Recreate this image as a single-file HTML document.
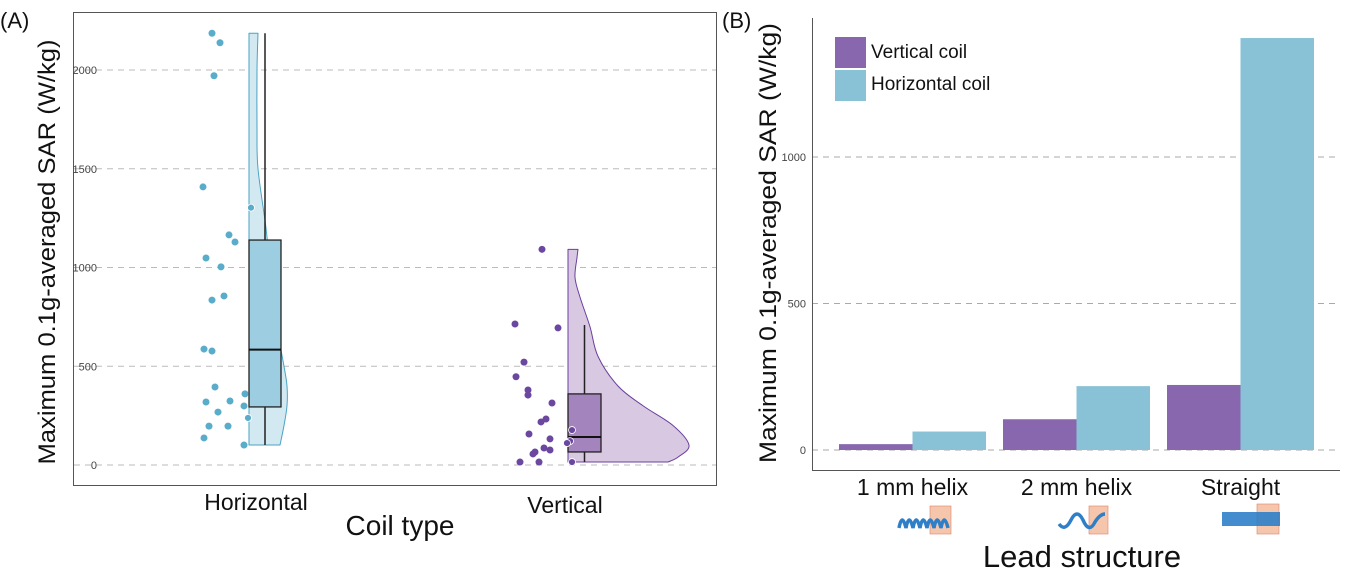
<!DOCTYPE html>
<html><head><meta charset="utf-8"><style>
body{margin:0;background:#fff;width:1345px;height:578px;overflow:hidden;font-family:"Liberation Sans",sans-serif}
svg text{font-family:"Liberation Sans",sans-serif}
</style></head><body>
<svg id="chart" width="1345" height="578" xmlns="http://www.w3.org/2000/svg">
<g id="left"></g>
<g id="right"></g>
</svg>
<script>
// Panel A data
const aTicks=[0,500,1000,1500,2000];
const horizPoints=[2186,2138,1971,1408,1303,1165,1129,1048,1003,835,856,587,577,395,319,324,360,299,268,238,197,197,137,101];
const horizJitter=[212,220,214,203,251,229,235,206,221,212,224,204,212,215,206,230,245,244,218,248,209,228,204,244];
const horizBox=[101,294,584,1139,2186];
const horizDensV=[2186,2000,1700,1500,1200,1000,700,500,400,300,200,101];
const horizDensW=[9,8,8,9,17,21,28,35,38,38,35,31];
const vertPoints=[1092,714,694,521,447,380,354,314,233,218,157,132,177,121,111,86,76,66,56,15,15,15];
const vertJitter=[542,515,558,524,516,528,528,552,546,541,529,550,572,570,567,544,550,535,533,520,539,572];
const vertBox=[15,66,142,360,709];
const vertDensV=[1092,1050,950,850,700,550,400,300,200,100,40,15];
const vertDensW=[10,9,7,12,22,30,50,75,105,121,110,100];
// Panel B data
const bCats=["1 mm helix","2 mm helix","Straight"];
const bVertical=[20,105,222];
const bHorizontal=[63,218,1406];
const bTicks=[0,500,1000];

const NS="http://www.w3.org/2000/svg";
function mk(p,t,a,txt){const e=document.createElementNS(NS,t);for(const k in a)e.setAttribute(k,a[k]);if(txt!==undefined)e.textContent=txt;p.appendChild(e);return e;}
const L=document.getElementById('left'),R=document.getElementById('right');
const yA=v=>465-v*0.1975;
function smooth(pts){let d='M'+pts[0][0]+','+pts[0][1];
  for(let i=0;i<pts.length-1;i++){const p0=pts[Math.max(0,i-1)],p1=pts[i],p2=pts[i+1],p3=pts[Math.min(pts.length-1,i+2)];
    const c1=[p1[0]+(p2[0]-p0[0])/6,p1[1]+(p2[1]-p0[1])/6],c2=[p2[0]-(p3[0]-p1[0])/6,p2[1]-(p3[1]-p1[1])/6];
    d+=' C'+c1[0]+','+c1[1]+' '+c2[0]+','+c2[1]+' '+p2[0]+','+p2[1];}
  return d;}
let f=mk(L,'rect',{x:73.5,y:12.5,width:643,height:473,fill:'none',stroke:'#555','stroke-width':1});

aTicks.forEach(t=>{let g=mk(L,'line',{x1:74,x2:716,y1:yA(t),y2:yA(t),stroke:'#bbb','stroke-dasharray':'6,5'});

let tx=mk(L,'text',{x:97,y:yA(t)+4,'font-size':11,fill:'#444','text-anchor':'end'},t);
});
function group(box,dv,dw,pts,jit,x0,bw,fillV,strokeV,fillB,ptC,name){
  const pp=dv.map((v,i)=>[x0+dw[i],yA(v)]);
  let d='M'+x0+','+yA(dv[0])+' L'+pp[0][0]+','+pp[0][1]+smooth(pp).replace(/^M[^C]*/,' ')+' L'+x0+','+yA(dv[dv.length-1])+' Z';
  let vi=mk(L,'path',{d:d,fill:fillV,stroke:strokeV,'stroke-width':1,'stroke-linejoin':'round'});
  
  const cx=x0+bw/2;
  let w=mk(L,'line',{x1:cx,x2:cx,y1:yA(box[0]),y2:yA(box[4]),stroke:'#222','stroke-width':1.5});
  
  let b=mk(L,'rect',{x:x0,y:yA(box[3]),width:bw,height:yA(box[1])-yA(box[3]),fill:fillB,stroke:'#222','stroke-width':1.3});
  
  let m=mk(L,'line',{x1:x0,x2:x0+bw,y1:yA(box[2]),y2:yA(box[2]),stroke:'#111','stroke-width':2});
  
  pts.forEach((v,i)=>{let c=mk(L,'circle',{cx:jit[i],cy:yA(v),r:3.5,fill:ptC,stroke:jit[i]>x0-3?'#fff':'none','stroke-width':0.8});
  });
}
group(horizBox,horizDensV,horizDensW,horizPoints,horizJitter,249,32,'#d3e9f2','#4aa3c4','#9ccde0','#5aaccb','horizontal');
group(vertBox,vertDensV,vertDensW,vertPoints,vertJitter,568,33,'#d8c8e2','#6a3f9e','#a484bd','#6b47a0','vertical');
let t;
t=mk(L,'text',{x:256,y:510,'font-size':23,fill:'#111','text-anchor':'middle'},'Horizontal');
t=mk(L,'text',{x:565,y:513,'font-size':23,fill:'#111','text-anchor':'middle'},'Vertical');
t=mk(L,'text',{x:400,y:535,'font-size':28,fill:'#111','text-anchor':'middle'},'Coil type');
t=mk(L,'text',{x:0,y:28,'font-size':22,fill:'#111'},'(A)');
t=mk(L,'text',{x:0,y:0,'font-size':24,fill:'#111','text-anchor':'middle',textLength:425,lengthAdjust:'spacingAndGlyphs',transform:'translate(55,252) rotate(-90)'},'Maximum 0.1g-averaged SAR (W/kg)');

// Panel B
const yB=v=>450-v*0.293;
bTicks.forEach(v=>{let g=mk(R,'line',{x1:812,x2:1340,y1:yB(v),y2:yB(v),stroke:'#aaa','stroke-dasharray':'6,5'});

let tx=mk(R,'text',{x:806,y:yB(v)+4,'font-size':11,fill:'#444','text-anchor':'end'},v);
});
let ax=mk(R,'path',{d:'M812.5,18 V470.5 H1340',fill:'none',stroke:'#555','stroke-width':1});

const groupX=[839,1003,1167],bW=73.5;
bCats.forEach((c,i)=>{
  let r1=mk(R,'rect',{x:groupX[i],y:yB(bVertical[i]),width:bW,height:yB(0)-yB(bVertical[i]),fill:'#8867ae'});
  
  let r2=mk(R,'rect',{x:groupX[i]+bW,y:yB(bHorizontal[i]),width:bW,height:yB(0)-yB(bHorizontal[i]),fill:'#89c2d6'});
  
  let tx=mk(R,'text',{x:groupX[i]+bW,y:495,'font-size':23,fill:'#111','text-anchor':'middle'},c);
  
});
let s=mk(R,'rect',{x:835,y:37,width:31,height:31,fill:'#8867ae'});
s=mk(R,'rect',{x:835,y:70,width:31,height:31,fill:'#89c2d6'});
t=mk(R,'text',{x:871,y:58,'font-size':19,fill:'#111'},'Vertical coil');
t=mk(R,'text',{x:871,y:90,'font-size':19,fill:'#111'},'Horizontal coil');
t=mk(R,'text',{x:722,y:28,'font-size':22,fill:'#111'},'(B)');
t=mk(R,'text',{x:0,y:0,'font-size':24,fill:'#111','text-anchor':'middle',textLength:440,lengthAdjust:'spacingAndGlyphs',transform:'translate(776,243) rotate(-90)'},'Maximum 0.1g-averaged SAR (W/kg)');
t=mk(R,'text',{x:1082,y:567,'font-size':31,fill:'#111','text-anchor':'middle'},'Lead structure');
let ic=mk(R,'g',{});
mk(ic,'rect',{x:930,y:506,width:21,height:28,fill:'#f6c6ac',stroke:'#d9826a','stroke-width':0.6});
mk(ic,'path',{d:'M899,528 q3,-16 7,0 q3,-16 7,0 q3,-16 7,0 q3,-16 7,0 q3,-16 7,0 q3,-16 7,0 q3,-16 7,0',fill:'none',stroke:'#2f7fc8','stroke-width':3.5});
ic=mk(R,'g',{});
mk(ic,'rect',{x:1089,y:506,width:19,height:28,fill:'#f6c6ac',stroke:'#d9826a','stroke-width':0.6});
mk(ic,'path',{d:'M1059,524 q6,8 12,-4 q6,-12 12,0 q6,14 12,2 q5,-8 10,-8',fill:'none',stroke:'#2f7fc8','stroke-width':3.5});
ic=mk(R,'g',{});
mk(ic,'rect',{x:1257,y:504,width:22,height:30,fill:'#f6c6ac',stroke:'#d9826a','stroke-width':0.6});
mk(ic,'rect',{x:1222,y:512,width:58,height:14,fill:'#2f7fc8',opacity:0.9});
</script>
</body></html>
